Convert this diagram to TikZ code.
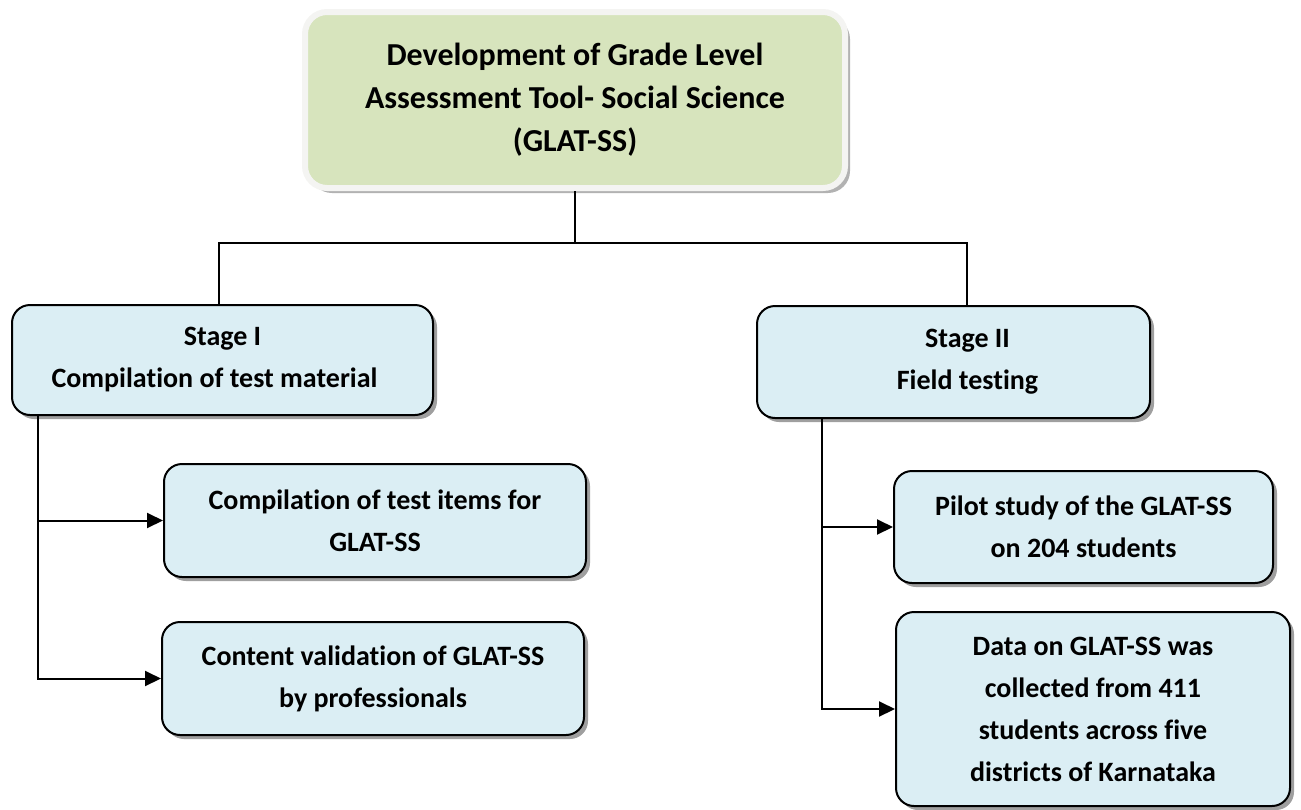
\documentclass[tikz,border=0pt]{standalone}
\usepackage{fontspec}
\setmainfont{Carlito}[Ligatures={NoCommon}]
\usepackage{tikz}
\usetikzlibrary{arrows.meta,shadows}
\definecolor{topgreen}{HTML}{D7E4BD}
\definecolor{stageblue}{HTML}{DBEEF4}
\definecolor{framegray}{HTML}{F4F4F2}

\begin{document}
\begin{tikzpicture}[x=1pt,y=-1pt,
    box/.style={draw=black,line width=2pt,rounded corners=18pt,fill=stageblue,
        align=center,font=\bfseries\fontsize{28}{42}\selectfont,
        drop shadow={shadow xshift=4pt,shadow yshift=-4pt,fill=gray!75,opacity=1}},
    topbox/.style={draw=framegray,line width=6pt,rounded corners=22pt,fill=topgreen,
        align=center,font=\bfseries\fontsize{32}{43}\selectfont,
        drop shadow={shadow xshift=5pt,shadow yshift=-5pt,fill=gray!60,opacity=1}},
    link/.style={line width=1.6pt},
    arrow/.style={line width=2pt,-{Triangle[length=16pt,width=15pt]}}]
\useasboundingbox (0,0) rectangle (1301,809);

\node[topbox,minimum width=540,minimum height=176] (top) at (575,100)
    {Development of Grade Level\\Assessment Tool- Social Science\\(GLAT-SS)};

\node[box,minimum width=421,minimum height=110] (s1) at (222.5,360)
    {Stage I\\Compilation of test material\hspace*{16pt}};
\node[box,minimum width=393,minimum height=112] (s2) at (953.5,362)
    {\hspace*{28pt}Stage II\\\hspace*{28pt}Field testing};

\node[box,minimum width=422,minimum height=113] (c1) at (375,520.5)
    {Compilation of test items for\\GLAT-SS};
\node[box,minimum width=422,minimum height=113] (c2) at (373,678.5)
    {Content validation of GLAT-SS\\by professionals};

\node[box,minimum width=379,minimum height=112] (p1) at (1083.5,527)
    {Pilot study of the GLAT-SS\\on 204 students};
\node[box,minimum width=394,minimum height=194] (p2) at (1093,709)
    {Data on GLAT-SS was\\collected from 411\\students across five\\districts of Karnataka};

\coordinate (bus) at (575,243);
\draw[link] (top.south) -- (bus);
\draw[link] ([xshift=-3.5pt]s1.north) |- (bus) -| ([xshift=13.5pt]s2.north);

\draw[arrow] ([xshift=-184.5pt]s1.south) |- (c1.west);
\draw[arrow] ([xshift=-184.5pt]s1.south) |- (c2.west);
\draw[arrow] ([xshift=-131.5pt]s2.south) |- (p1.west);
\draw[arrow] ([xshift=-131.5pt]s2.south) |- (p2.west);

\end{tikzpicture}
\end{document}
